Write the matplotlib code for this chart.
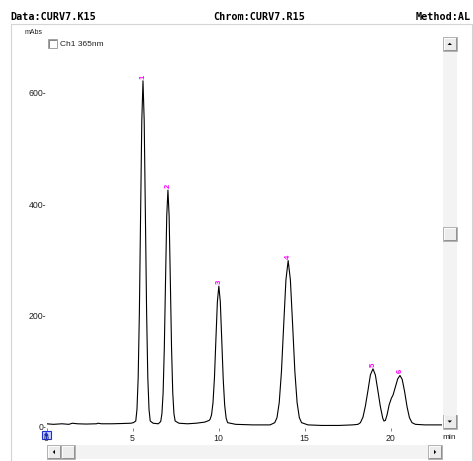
import matplotlib
matplotlib.use("Agg")
import matplotlib.pyplot as plt
from matplotlib.patches import Rectangle, Polygon

# ---------------- data ----------------
time_min = [0.0, 0.4, 0.9, 1.3, 1.5, 1.8, 2.3, 2.9, 3.0, 3.2, 3.8, 4.4, 4.9, 5.05,
            5.19, 5.26, 5.33, 5.40, 5.47, 5.54, 5.61, 5.68, 5.75, 5.82, 5.89, 5.96, 6.03,
            6.2, 6.5,
            6.64, 6.71, 6.78, 6.85, 6.92, 6.99, 7.06, 7.13, 7.20, 7.27, 7.34, 7.41, 7.48,
            7.7, 8.2, 8.7, 9.2, 9.45,
            9.51, 9.595, 9.68, 9.765, 9.85, 9.935, 10.02, 10.105, 10.19, 10.275, 10.36, 10.445, 10.53,
            11.0, 12.0, 13.0,
            13.27, 13.40, 13.53, 13.66, 13.79, 13.92, 14.05, 14.18, 14.31, 14.44, 14.57, 14.70, 14.83,
            15.2, 16.0, 17.0, 17.8,
            18.11, 18.25, 18.40, 18.54, 18.69, 18.83, 18.98, 19.12, 19.27, 19.41, 19.55, 19.62,
            19.70, 19.80, 19.92, 20.05, 20.15, 20.28, 20.42, 20.55, 20.68, 20.82, 20.96, 21.10,
            21.25, 21.45, 22.0, 23.05]
absorbance = [4, 3, 4, 3, 5, 4, 3.5, 4, 5, 4, 4, 4.5, 5, 6,
              9, 30, 87, 205, 379, 550, 622, 550, 379, 205, 87, 30, 9,
              5, 4,
              8, 22, 60, 141, 261, 378, 425, 378, 261, 141, 60, 22, 9,
              5, 4, 5, 7, 10,
              12, 20, 42, 87, 157, 224, 252, 224, 154, 84, 37, 14, 6,
              3, 2, 2,
              6, 15, 42, 98, 182, 263, 298, 263, 182, 98, 42, 15, 6,
              2, 1, 1, 2,
              3, 6, 16, 36, 64, 92, 103, 92, 63, 35, 14, 9,
              10, 20, 38, 50, 56, 70, 85, 91, 84, 62, 35, 15,
              6, 3, 2, 2]

peak_labels = ["1", "2", "3", "4", "5", "6"]
peak_times = [5.61, 7.06, 10.02, 14.05, 18.98, 20.55]
peak_heights = [622, 425, 252, 298, 103, 91]

y_ticks = [0, 200, 400, 600]
y_tick_labels = ["0-", "200-", "400-", "600-"]
x_ticks = [0, 5, 10, 15, 20]
x_tick_labels = ["0", "5", "10", "15", "20"]

header_texts = ["Data:CURV7.K15", "Chrom:CURV7.R15", "Method:AL"]
y_unit = "mAbs"
x_unit = "min"
channel_label = "Ch1 365nm"

# ---------------- figure ----------------
W, H, DPI = 473, 461, 100
fig = plt.figure(figsize=(W / DPI, H / DPI), dpi=DPI)
fig.patch.set_facecolor("white")

# overlay axes in pixel coordinates (y downwards)
ov = fig.add_axes([0, 0, 1, 1])
ov.set_xlim(0, W)
ov.set_ylim(H, 0)
ov.axis("off")
ov.patch.set_alpha(0)

# panel border
ov.add_patch(Rectangle((10.7, 24.5), 461, 440, fill=False, edgecolor="#d4d4d4", lw=0.8))

# header texts
mono = dict(family="DejaVu Sans Mono", fontweight="bold", fontsize=7.3, color="#000000", va="center")
ov.text(10.7, 17, header_texts[0], ha="left", **mono)
ov.text(259, 17, header_texts[1], ha="center", **mono)
ov.text(471, 17, header_texts[2], ha="right", **mono)

sans = "Liberation Sans"
ov.text(25, 33, y_unit, ha="left", va="center", fontsize=5, family=sans, color="#222222")

# checkbox
ov.add_patch(Rectangle((48, 39.5), 8.5, 8.5, facecolor="white", edgecolor="#a0a0a0", lw=0.7))
ov.plot([48.7, 48.7, 56], [47.5, 40.2, 40.2], color="#707070", lw=0.6)
ov.text(59.5, 44, channel_label, ha="left", va="center", fontsize=6, family=sans, color="#222222")


def button(x, y, w, h, direction):
    ov.add_patch(Rectangle((x, y), w, h, facecolor="#ececec", edgecolor="#a8a8a8", lw=0.6))
    ov.plot([x + 0.6, x + 0.6, x + w - 0.6], [y + h - 0.6, y + 0.6, y + 0.6], color="white", lw=0.6)
    ov.plot([x + 0.6, x + w - 0.6, x + w - 0.6], [y + h - 0.6, y + h - 0.6, y + 0.6],
            color="#808080", lw=0.6)
    cx, cy = x + w / 2, y + h / 2
    s = 2.2
    if direction == "up":
        pts = [(cx - s, cy + 1), (cx + s, cy + 1), (cx, cy - 1.2)]
    elif direction == "down":
        pts = [(cx - s, cy - 1), (cx + s, cy - 1), (cx, cy + 1.2)]
    elif direction == "left":
        pts = [(cx + 1, cy - s), (cx + 1, cy + s), (cx - 1.2, cy)]
    elif direction == "right":
        pts = [(cx - 1, cy - s), (cx - 1, cy + s), (cx + 1.2, cy)]
    else:
        pts = None
    if pts:
        ov.add_patch(Polygon(pts, closed=True, facecolor="black", edgecolor="none"))


# vertical scrollbar
ov.add_patch(Rectangle((443, 37), 13.5, 391, facecolor="#f3f3f3", edgecolor="none"))
button(443, 37, 13.5, 14, "up")
button(443, 227, 13.5, 14, None)
button(443, 414.5, 13.5, 14, "down")

# horizontal scrollbar
ov.add_patch(Rectangle((47, 445), 395, 14, facecolor="#f3f3f3", edgecolor="none"))
button(47, 445, 14, 14, "left")
button(61, 445, 13.5, 14, None)
button(428, 445, 14, 14, "right")

# small blue marker icon at the origin
ov.add_patch(Rectangle((42, 430.5), 8.5, 8.5, facecolor="#c8d4ff", edgecolor="#2030d0", lw=0.8))
ov.add_patch(Polygon([(43.5, 435.5), (48.8, 435.5), (46.2, 431.8)], closed=True,
                     facecolor="#2030d0", edgecolor="none"))
ov.plot([46.2, 46.2], [434, 438], color="#2030d0", lw=1.0)

ov.text(449.5, 437, x_unit, ha="center", va="center", fontsize=6, family=sans, color="#222222")

# ---------------- data axes ----------------
ax_left, ax_right, ax_top, ax_bottom = 46.5, 441.5, 40, 428
px_per_min = 17.2
zero_px, px_per_unit = 426.0, 0.555
ax = fig.add_axes([ax_left / W, 1 - ax_bottom / H, (ax_right - ax_left) / W, (ax_bottom - ax_top) / H])
ax.patch.set_visible(False)
ax.set_xlim(0, (ax_right - ax_left) / px_per_min)
ax.set_ylim((zero_px - ax_bottom) / px_per_unit, (zero_px - ax_top) / px_per_unit)
for sp in ax.spines.values():
    sp.set_visible(False)

ax.plot(time_min, absorbance, color="#000000", lw=0.8, solid_joinstyle="round")

for lab, t, v in zip(peak_labels, peak_times, peak_heights):
    ax.annotate(lab, (t, v), xytext=(0, 1.5), textcoords="offset points",
                ha="center", va="bottom", rotation=90, fontsize=5.5, fontweight="bold",
                color="#ff00ff", family=sans, zorder=5)

ax.set_yticks(y_ticks)
ax.set_yticklabels(y_tick_labels, fontsize=6.3, family=sans, color="#222222")
ax.tick_params(axis="y", length=0, pad=0)
ax.set_xticks(x_ticks)
ax.set_xticklabels(x_tick_labels, fontsize=6.3, family=sans, color="#222222")
ax.tick_params(axis="x", length=2, width=0.5, color="#555555", direction="out", pad=2)

fig.savefig("out.png", dpi=DPI)
